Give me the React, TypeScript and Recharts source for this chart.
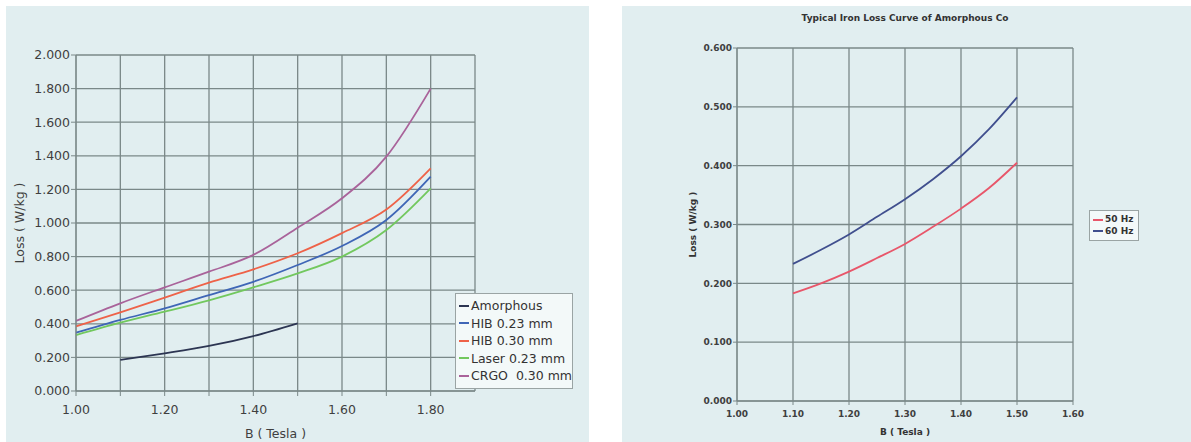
import React from 'react'
import {
  LineChart,
  Line,
  XAxis,
  YAxis,
  CartesianGrid,
  Legend
} from 'recharts'

// left chart: loss of core materials
const B_LEFT = [1.0, 1.1, 1.2, 1.3, 1.4, 1.5, 1.6, 1.7, 1.8]
const AMORPHOUS = [null, 0.185, 0.224, 0.268, 0.327, 0.403, null, null, null]
const HIB_023 = [0.347, 0.423, 0.492, 0.571, 0.65, 0.75, 0.863, 1.018, 1.276]
const HIB_030 = [0.385, 0.468, 0.556, 0.645, 0.724, 0.82, 0.94, 1.08, 1.325]
const LASER_023 = [0.333, 0.407, 0.472, 0.54, 0.617, 0.7, 0.8, 0.958, 1.206]
const CRGO_030 = [0.417, 0.522, 0.617, 0.71, 0.81, 0.972, 1.147, 1.395, 1.8]
const LEFT_NAMES = ['Amorphous', 'HIB 0.23 mm', 'HIB 0.30 mm', 'Laser 0.23 mm', 'CRGO  0.30 mm']
const LEFT_X_TICKS = [1.0, 1.1, 1.2, 1.3, 1.4, 1.5, 1.6, 1.7, 1.8]
const LEFT_Y_TICKS = [0, 0.2, 0.4, 0.6, 0.8, 1.0, 1.2, 1.4, 1.6, 1.8, 2.0]

// right chart: amorphous core at 50 / 60 Hz
const B_RIGHT = [1.1, 1.15, 1.2, 1.25, 1.3, 1.35, 1.4, 1.45, 1.5]
const HZ_50 = [0.183, 0.2, 0.22, 0.243, 0.267, 0.296, 0.327, 0.362, 0.405]
const HZ_60 = [0.233, 0.257, 0.283, 0.313, 0.343, 0.377, 0.416, 0.462, 0.516]
const RIGHT_NAMES = ['50 Hz', '60 Hz']
const RIGHT_X_TICKS = [1.0, 1.1, 1.2, 1.3, 1.4, 1.5, 1.6]
const RIGHT_Y_TICKS = [0, 0.1, 0.2, 0.3, 0.4, 0.5, 0.6]

const COLORS = {
  amorphous: '#2c3552',
  hib023: '#3f66b6',
  hib030: '#ee6248',
  laser: '#72c85e',
  crgo: '#a9639a',
  hz50: '#e8566a',
  hz60: '#404f8e',
  grid: '#7a8888',
  panel: '#e1eef0',
  text: '#3f3f3f'
}

const FONT = '"DejaVu Sans", sans-serif'

const leftData = B_LEFT.map((b, i) => ({
  b,
  amorphous: AMORPHOUS[i],
  hib023: HIB_023[i],
  hib030: HIB_030[i],
  laser: LASER_023[i],
  crgo: CRGO_030[i]
}))

const rightData = B_RIGHT.map((b, i) => ({
  b,
  hz50: HZ_50[i],
  hz60: HZ_60[i]
}))

function BoxLegend(props: any) {
  const { payload, fontSize, rowH, width, bold, order } = props
  const items = [...(payload || [])].sort(
    (a: any, b: any) => order.indexOf(a.value) - order.indexOf(b.value)
  )
  return (
    <div
      style={{
        width,
        boxSizing: 'border-box',
        border: '1px solid #9aa4a4',
        background: '#f3f9f9',
        padding: '3px 0 3px 3px',
        overflow: 'hidden',
        whiteSpace: 'pre',
        fontFamily: FONT,
        fontSize,
        fontWeight: bold ? 'bold' : 'normal',
        color: '#333'
      }}
    >
      {items.map((p: any) => (
        <div key={p.value} style={{ height: rowH, lineHeight: `${rowH}px`, display: 'flex', alignItems: 'center' }}>
          <span style={{ display: 'inline-block', width: 10, height: 2, background: p.color, marginRight: 2, flexShrink: 0 }} />
          <span>{p.value}</span>
        </div>
      ))}
    </div>
  )
}

function LeftChart() {
  const tick = { fontSize: 12.5, fill: COLORS.text, fontFamily: FONT }
  return (
    <LineChart width={583} height={436} data={leftData} margin={{ top: 49, right: 114, bottom: 6, left: 10 }}>
      <CartesianGrid stroke={COLORS.grid} strokeWidth={1.3} />
      <XAxis
        type="number"
        dataKey="b"
        domain={[1.0, 1.9]}
        ticks={LEFT_X_TICKS}
        tickFormatter={(v: number) => (Math.round(v * 10) % 2 === 0 ? v.toFixed(2) : '')}
        tick={tick}
        tickSize={5}
        tickMargin={9}
        height={45}
        stroke={COLORS.grid}
        label={{ value: 'B ( Tesla )', position: 'insideBottom', offset: -2, fill: COLORS.text, fontSize: 12.5, fontFamily: FONT }}
      />
      <YAxis
        type="number"
        domain={[0, 2]}
        ticks={LEFT_Y_TICKS}
        tickFormatter={(v: number) => v.toFixed(3)}
        tick={tick}
        tickSize={5}
        tickMargin={1}
        width={60}
        stroke={COLORS.grid}
        label={{ value: 'Loss ( W/kg )', angle: -90, position: 'insideLeft', offset: 4, fill: COLORS.text, fontSize: 12.5, fontFamily: FONT, style: { textAnchor: 'middle' } }}
      />
      <Legend
        layout="horizontal"
        verticalAlign="middle"
        align="center"
        wrapperStyle={{ left: 449, top: 287, width: 118 }}
        content={(p: any) => <BoxLegend {...p} fontSize={12.5} rowH={17.5} width={118} order={LEFT_NAMES} />}
      />
      <Line type="monotone" dataKey="amorphous" name={LEFT_NAMES[0]} stroke={COLORS.amorphous} strokeWidth={1.8} dot={false} isAnimationActive={false} />
      <Line type="monotone" dataKey="hib023" name={LEFT_NAMES[1]} stroke={COLORS.hib023} strokeWidth={1.8} dot={false} isAnimationActive={false} />
      <Line type="monotone" dataKey="hib030" name={LEFT_NAMES[2]} stroke={COLORS.hib030} strokeWidth={1.8} dot={false} isAnimationActive={false} />
      <Line type="monotone" dataKey="laser" name={LEFT_NAMES[3]} stroke={COLORS.laser} strokeWidth={1.8} dot={false} isAnimationActive={false} />
      <Line type="monotone" dataKey="crgo" name={LEFT_NAMES[4]} stroke={COLORS.crgo} strokeWidth={1.8} dot={false} isAnimationActive={false} />
    </LineChart>
  )
}

function RightChart() {
  const tick = { fontSize: 9, fill: COLORS.text, fontFamily: FONT, fontWeight: 'bold' }
  return (
    <div style={{ position: 'relative' }}>
      <div
        style={{
          position: 'absolute',
          left: 115,
          width: 336,
          top: 7,
          textAlign: 'center',
          fontFamily: FONT,
          fontSize: 9,
          fontWeight: 'bold',
          color: '#333',
          whiteSpace: 'nowrap'
        }}
      >
        Typical Iron Loss Curve of Amorphous Co
      </div>
      <LineChart width={569} height={436} data={rightData} margin={{ top: 42, right: 118, bottom: 6, left: 60 }}>
        <CartesianGrid stroke={COLORS.grid} strokeWidth={1.3} />
        <XAxis
          type="number"
          dataKey="b"
          domain={[1.0, 1.6]}
          ticks={RIGHT_X_TICKS}
          tickFormatter={(v: number) => v.toFixed(2)}
          tick={tick}
          tickSize={4}
          tickMargin={6}
          height={35}
          stroke={COLORS.grid}
          label={{ value: 'B ( Tesla )', position: 'insideBottom', offset: 1, fill: '#333', fontSize: 9, fontWeight: 'bold', fontFamily: FONT }}
        />
        <YAxis
          type="number"
          domain={[0, 0.6]}
          ticks={RIGHT_Y_TICKS}
          tickFormatter={(v: number) => v.toFixed(3)}
          tick={tick}
          tickSize={4}
          tickMargin={1}
          width={55}
          stroke={COLORS.grid}
          label={{ value: 'Loss ( W/kg )', angle: -90, position: 'insideLeft', offset: 11, fill: '#333', fontSize: 9, fontWeight: 'bold', fontFamily: FONT, style: { textAnchor: 'middle' } }}
        />
        <Legend
          layout="horizontal"
          verticalAlign="middle"
          align="center"
          wrapperStyle={{ left: 467, top: 204, width: 50 }}
          content={(p: any) => <BoxLegend {...p} fontSize={9} rowH={11.5} width={50} bold order={RIGHT_NAMES} />}
        />
        <Line type="monotone" dataKey="hz50" name={RIGHT_NAMES[0]} stroke={COLORS.hz50} strokeWidth={1.8} dot={false} isAnimationActive={false} />
        <Line type="monotone" dataKey="hz60" name={RIGHT_NAMES[1]} stroke={COLORS.hz60} strokeWidth={1.8} dot={false} isAnimationActive={false} />
      </LineChart>
    </div>
  )
}

export default function App() {
  return (
    <div style={{ position: 'absolute', left: 0, top: 0, width: 1191, height: 442, background: '#fff', overflow: 'hidden' }}>
      <div style={{ position: 'absolute', left: 6, top: 6, width: 583, height: 436, background: COLORS.panel }}>
        <LeftChart />
      </div>
      <div style={{ position: 'absolute', left: 622, top: 6, width: 569, height: 436, background: COLORS.panel }}>
        <RightChart />
      </div>
    </div>
  )
}
